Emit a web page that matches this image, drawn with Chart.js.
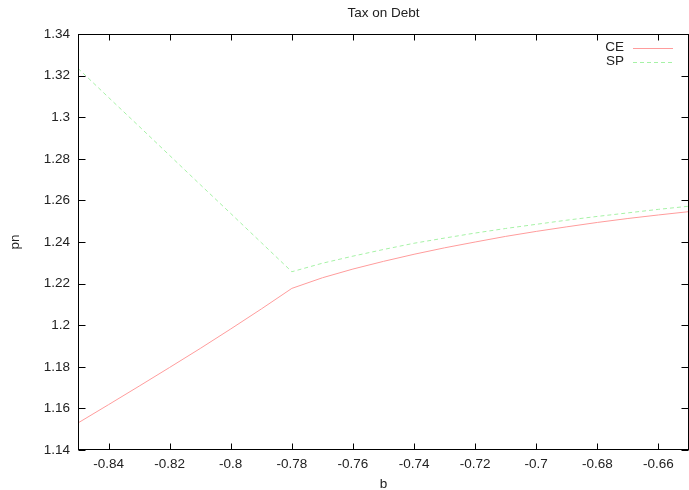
<!DOCTYPE html>
<html>
<head>
<meta charset="utf-8">
<title>Tax on Debt</title>
<script src="https://cdn.jsdelivr.net/npm/chart.js@4/dist/chart.umd.min.js"></script>
<style>
  html, body { margin: 0; padding: 0; background: #fff; }
  canvas { display: block; }
</style>
</head>
<body>
<canvas id="chart" width="689" height="490"></canvas>
<script>
// Debt level b
const bValues = [-0.85, -0.84, -0.83, -0.82, -0.81, -0.80, -0.79, -0.78, -0.77, -0.76,
                 -0.75, -0.74, -0.73, -0.72, -0.71, -0.70, -0.69, -0.68, -0.67, -0.66, -0.65];
// Competitive equilibrium
const ceValues = [1.1530, 1.1618, 1.1707, 1.1797, 1.1888, 1.1982, 1.2078, 1.2177, 1.2228, 1.2270,
                  1.2307, 1.2341, 1.2372, 1.2400, 1.2427, 1.2451, 1.2473, 1.2494, 1.2513, 1.2530, 1.2546];
// Social planner
const spValues = [1.3235, 1.3095, 1.2956, 1.2816, 1.2676, 1.2537, 1.2397, 1.2257, 1.2298, 1.2332,
                  1.2364, 1.2394, 1.2419, 1.2443, 1.2465, 1.2485, 1.2505, 1.2523, 1.2540, 1.2557, 1.2572];

const xTicks = [-0.84, -0.82, -0.80, -0.78, -0.76, -0.74, -0.72, -0.70, -0.68, -0.66];
const yTicks = [1.14, 1.16, 1.18, 1.20, 1.22, 1.24, 1.26, 1.28, 1.30, 1.32, 1.34];

const chartTitle = 'Tax on Debt';
const xTitle = 'b';
const yTitle = 'pn';

const FONT = '"Liberation Sans", Arial, sans-serif';
const FONT_SIZE = 13.5;
const TEXT = '#222';

const toPoints = vals => bValues.map((b, i) => ({ x: b, y: vals[i] }));
const fmt = v => String(Number(v.toFixed(2)));

// Box border, inward ticks on all four sides, titles and key
const gnuplotFrame = {
  id: 'gnuplotFrame',
  afterDraw(chart) {
    const { ctx, chartArea: a, scales: { x, y } } = chart;
    ctx.save();
    ctx.strokeStyle = '#000';
    ctx.lineWidth = 1;
    const seg = (x1, y1, x2, y2) => { ctx.beginPath(); ctx.moveTo(x1, y1); ctx.lineTo(x2, y2); ctx.stroke(); };
    const L = a.left + 0.5, R = a.right - 0.5, T = a.top + 0.5, B = a.bottom - 0.5;
    ctx.strokeRect(L, T, R - L, B - T);
    x.ticks.forEach(t => {
      const px = Math.round(x.getPixelForValue(t.value)) + 0.5;
      seg(px, B, px, B - 6);
      seg(px, T, px, T + 6);
    });
    y.ticks.forEach(t => {
      const py = Math.round(y.getPixelForValue(t.value)) + 0.5;
      seg(L, py, L + 7, py);
      seg(R, py, R - 7, py);
    });

    ctx.fillStyle = TEXT;
    ctx.font = FONT_SIZE + 'px ' + FONT;
    ctx.textAlign = 'center';
    ctx.textBaseline = 'middle';
    const cx = (a.left + a.right) / 2;
    ctx.fillText(chartTitle, cx, 13);
    ctx.fillText(xTitle, cx, 484);
    ctx.save();
    ctx.translate(15, (a.top + a.bottom) / 2);
    ctx.rotate(-Math.PI / 2);
    ctx.fillText(yTitle, 0, 0);
    ctx.restore();

    // key
    chart.data.datasets.forEach((ds, i) => {
      const ky = 47 + i * 14;
      ctx.fillStyle = TEXT;
      ctx.textAlign = 'right';
      ctx.fillText(ds.label, 624, ky);
      ctx.strokeStyle = ds.borderColor;
      ctx.setLineDash(ds.borderDash || []);
      seg(633, ky + 1.5, 673, ky + 1.5);
      ctx.setLineDash([]);
    });
    ctx.restore();
  }
};

new Chart(document.getElementById('chart'), {
  type: 'line',
  data: {
    datasets: [
      {
        label: 'CE',
        data: toPoints(ceValues),
        borderColor: '#ff9c9c',
        borderWidth: 1,
        pointRadius: 0,
        tension: 0,
        fill: false
      },
      {
        label: 'SP',
        data: toPoints(spValues),
        borderColor: '#a6f2a6',
        borderWidth: 1,
        borderDash: [4, 3],
        pointRadius: 0,
        tension: 0,
        fill: false
      }
    ]
  },
  options: {
    responsive: false,
    animation: false,
    layout: { padding: { top: 34, right: 0, bottom: 0, left: 0 } },
    plugins: {
      legend: { display: false },
      title: { display: false },
      tooltip: { enabled: false }
    },
    scales: {
      x: {
        type: 'linear',
        min: -0.85,
        max: -0.65,
        afterBuildTicks: s => { s.ticks = xTicks.map(v => ({ value: v })); },
        afterFit: s => { s.height = 40; },
        grid: { display: false, drawTicks: false },
        border: { display: false },
        ticks: {
          padding: 6,
          color: TEXT,
          font: { family: FONT, size: FONT_SIZE },
          maxRotation: 0,
          autoSkip: false,
          callback: v => fmt(v)
        }
      },
      y: {
        type: 'linear',
        min: 1.14,
        max: 1.34,
        afterBuildTicks: s => { s.ticks = yTicks.map(v => ({ value: v })); },
        afterFit: s => { s.width = 78; },
        grid: { display: false, drawTicks: false },
        border: { display: false },
        ticks: {
          padding: 8,
          color: TEXT,
          font: { family: FONT, size: FONT_SIZE },
          autoSkip: false,
          callback: v => fmt(v)
        }
      }
    }
  },
  plugins: [gnuplotFrame]
});
</script>
</body>
</html>
